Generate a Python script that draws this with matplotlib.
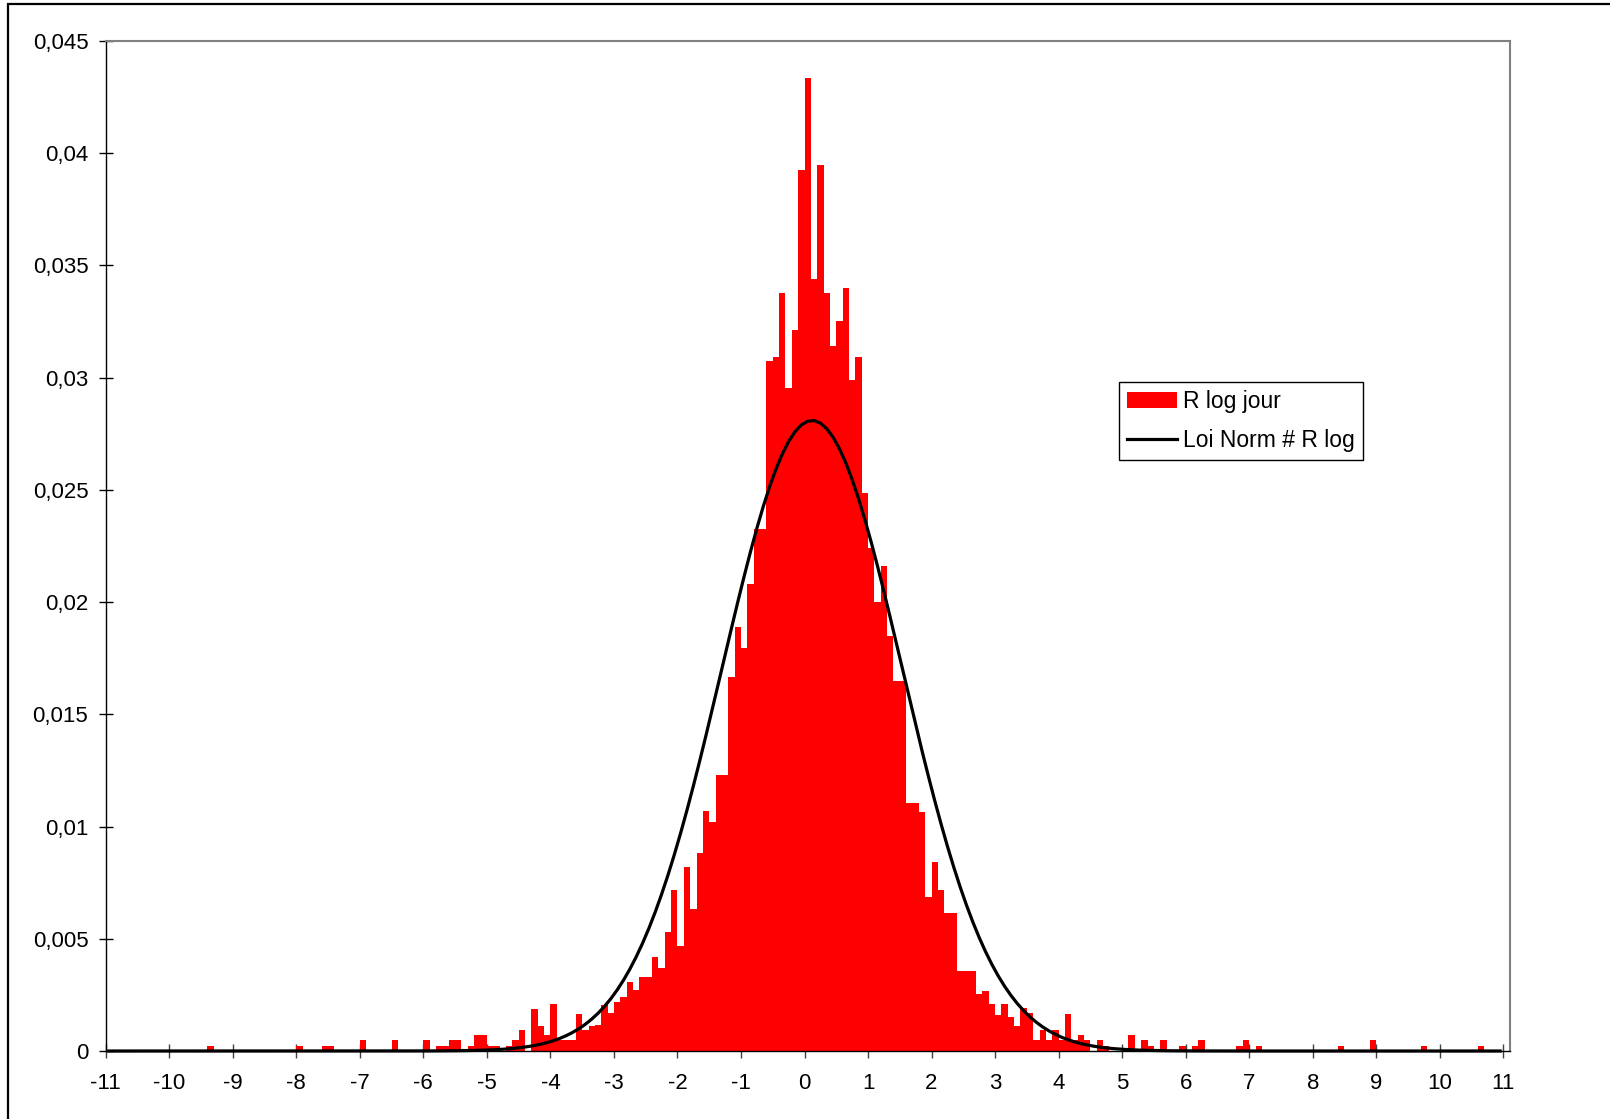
import numpy as np
import matplotlib
matplotlib.use("Agg")
import matplotlib.pyplot as plt
from matplotlib.patches import Rectangle
from matplotlib.ticker import FixedLocator, FuncFormatter

plt.rcParams['font.family'] = ['Liberation Sans', 'DejaVu Sans']
plt.rcParams['axes.unicode_minus'] = False

# ---- data ----
bin_width = 0.1
# left edges of the non-empty histogram bins
bin_left = [-9.4, -8.0, -7.6, -7.5, -7.0, -6.5, -6.0, -5.8, -5.7, -5.6, -5.5, -5.3, -5.2, -5.1,
            -5.0, -4.9, -4.7, -4.6, -4.5, -4.3, -4.2, -4.1, -4.0, -3.9, -3.8, -3.7, -3.6, -3.5,
            -3.4, -3.3, -3.2, -3.1, -3.0, -2.9, -2.8, -2.7, -2.6, -2.5, -2.4, -2.3, -2.2, -2.1,
            -2.0, -1.9, -1.8, -1.7, -1.6, -1.5, -1.4, -1.3, -1.2, -1.1, -1.0, -0.9, -0.8, -0.7,
            -0.6, -0.5, -0.4, -0.3, -0.2, -0.1, 0.0, 0.1, 0.2, 0.3, 0.4, 0.5, 0.6, 0.7,
            0.8, 0.9, 1.0, 1.1, 1.2, 1.3, 1.4, 1.5, 1.6, 1.7, 1.8, 1.9, 2.0, 2.1,
            2.2, 2.3, 2.4, 2.5, 2.6, 2.7, 2.8, 2.9, 3.0, 3.1, 3.2, 3.3, 3.4, 3.5,
            3.6, 3.7, 3.8, 3.9, 4.0, 4.1, 4.2, 4.3, 4.4, 4.6, 4.7, 5.1, 5.3, 5.4,
            5.6, 5.9, 6.1, 6.2, 6.8, 6.9, 7.1, 8.4, 8.9, 9.7, 10.6]
# relative frequency of each bin (R log jour), in thousandths
freq_milli = [0.235, 0.235, 0.235, 0.235, 0.47, 0.47, 0.47, 0.235, 0.235, 0.47, 0.47, 0.235, 0.705, 0.705,
              0.235, 0.235, 0.235, 0.47, 0.94, 1.88, 1.10, 0.705, 2.08, 0.47, 0.47, 0.47, 1.65, 0.94,
              1.10, 1.18, 2.07, 1.70, 2.20, 2.40, 3.09, 2.70, 3.30, 3.30, 4.17, 3.71, 5.32, 7.17,
              4.69, 8.21, 6.33, 8.81, 10.68, 10.22, 12.30, 12.30, 16.68, 18.90, 17.95, 20.80, 23.25, 23.25,
              30.75, 30.90, 33.76, 29.53, 32.13, 39.26, 43.35, 34.39, 39.48, 33.76, 31.39, 32.53, 33.99, 29.90,
              30.90, 24.88, 22.40, 20.00, 21.60, 18.50, 16.50, 16.50, 11.06, 11.06, 10.66, 6.84, 8.40, 7.17,
              6.17, 6.17, 3.55, 3.55, 3.55, 2.55, 2.67, 2.08, 1.60, 2.08, 1.50, 1.10, 1.93, 1.71,
              0.47, 0.94, 0.47, 0.94, 0.47, 1.65, 0.47, 0.705, 0.47, 0.47, 0.235, 0.705, 0.47, 0.235,
              0.47, 0.235, 0.235, 0.47, 0.235, 0.47, 0.235, 0.235, 0.47, 0.235, 0.235]
freq = [v / 1000.0 for v in freq_milli]

# fitted normal law (Loi Norm # R log): density x bin width, at bin centres
norm_mean = 0.12
norm_std = 1.42

x_ticks = list(range(-11, 12))
y_ticks = [0, 0.005, 0.01, 0.015, 0.02, 0.025, 0.03, 0.035, 0.04, 0.045]
y_tick_labels = ["0", "0,005", "0,01", "0,015", "0,02", "0,025", "0,03", "0,035", "0,04", "0,045"]

# ---- figure ----
W, H = 1610, 1119
fig = plt.figure(figsize=(W / 100, H / 100), dpi=100)
ax = fig.add_axes([105.7 / W, 1 - 1051 / H, (1510 - 105.7) / W, (1051 - 41) / H])

bars = ax.bar(bin_left, freq, width=bin_width, align='edge', color='#FF0000',
              edgecolor='none', linewidth=0, label='R log jour', zorder=2)

centres = np.arange(-10.95, 11.0, bin_width)
curve = bin_width / (norm_std * np.sqrt(2 * np.pi)) * np.exp(-0.5 * ((centres - norm_mean) / norm_std) ** 2)
line, = ax.plot(centres, curve, color='black', lw=2.3, label='Loi Norm # R log',
                zorder=3, clip_on=False, solid_joinstyle='round')

ax.set_xlim(-11, 11 + (1510 - 1503.3) / 63.53)
ax.set_ylim(0, 0.045)

ax.xaxis.set_major_locator(FixedLocator(x_ticks))
ax.xaxis.set_major_formatter(FuncFormatter(lambda v, p: "%d" % round(v)))
ax.yaxis.set_major_locator(FixedLocator(y_ticks))
ax.set_yticklabels(y_tick_labels)

ax.tick_params(axis='both', direction='inout', length=10, width=1.0, labelsize=16)
ax.tick_params(axis='y', pad=7.5, colors='black')
ax.tick_params(axis='x', pad=11, color='#404040', labelcolor='black')

for side in ['top', 'right']:
    ax.spines[side].set_color('#808080')
    ax.spines[side].set_linewidth(1.5)
ax.spines['left'].set_color('black')
ax.spines['left'].set_linewidth(1.0)
ax.spines['bottom'].set_color('black')
ax.spines['bottom'].set_linewidth(1.0)

leg = ax.legend(handles=[bars, line], labels=['R log jour', 'Loi Norm # R log'],
                loc='upper left', bbox_to_anchor=(1119 / W, 1 - 382 / H),
                bbox_transform=fig.transFigure, borderaxespad=0, fontsize=16.5,
                frameon=True, fancybox=False, edgecolor='black', framealpha=1,
                handlelength=2.2, handletextpad=0.25, borderpad=0.35, labelspacing=0.68)
leg.get_frame().set_linewidth(1.0)

# outer chart border (top and left visible)
fig.patches.append(Rectangle((8.3 / W, -0.05), 1.2, 1 - 4.3 / H + 0.05,
                             transform=fig.transFigure, fill=False,
                             edgecolor='black', linewidth=1.6))

fig.savefig('out.png', dpi=100, facecolor='white')
